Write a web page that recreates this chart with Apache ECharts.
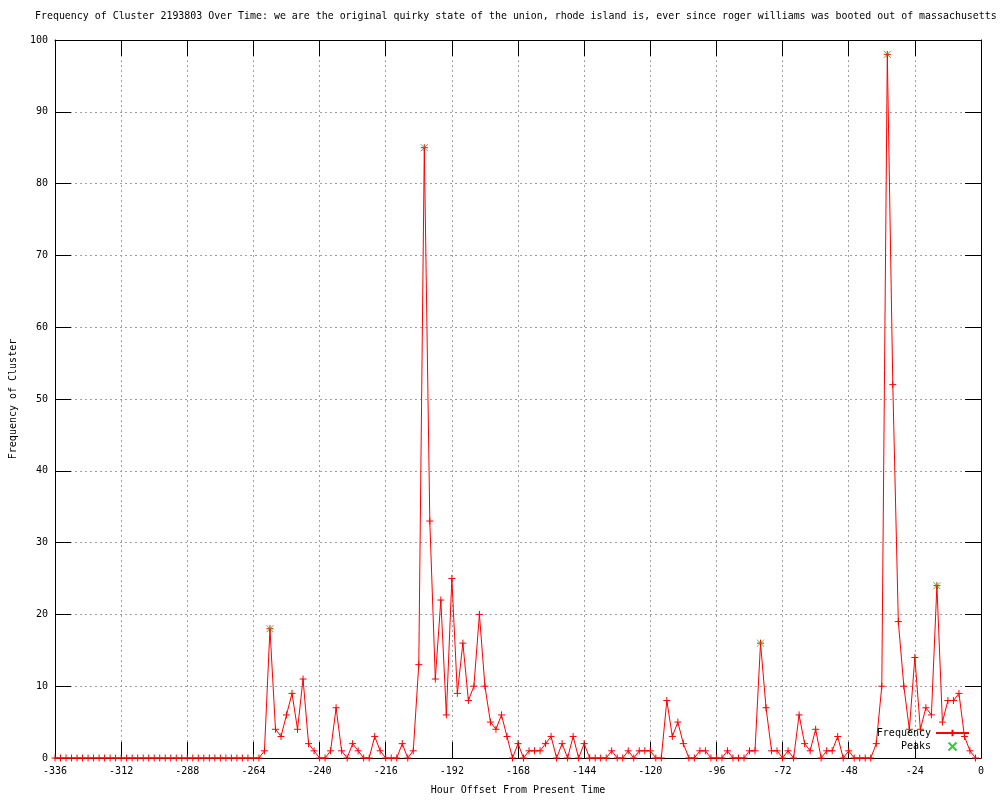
<!DOCTYPE html>
<html>
<head>
<meta charset="utf-8">
<script src="https://cdn.jsdelivr.net/npm/echarts@6/dist/echarts.min.js"></script>
<style>html,body{margin:0;padding:0;background:#fff}#c{width:1000px;height:800px}</style>
</head>
<body>
<div id="c"></div>
<script>
const titleText = 'Frequency of Cluster 2193803 Over Time: we are the original quirky state of the union, rhode island is, ever since roger williams was booted out of massachusetts';
const xAxisName = 'Hour Offset From Present Time';
const yAxisName = 'Frequency of Cluster';

const hours = [
  -336,-334,-332,-330,-328,-326,-324,-322,-320,-318,-316,-314,-312,-310,-308,-306,-304,-302,-300,-298,
  -296,-294,-292,-290,-288,-286,-284,-282,-280,-278,-276,-274,-272,-270,-268,-266,-264,-262,-260,-258,
  -256,-254,-252,-250,-248,-246,-244,-242,-240,-238,-236,-234,-232,-230,-228,-226,-224,-222,-220,-218,
  -216,-214,-212,-210,-208,-206,-204,-202,-200,-198,-196,-194,-192,-190,-188,-186,-184,-182,-180,-178,
  -176,-174,-172,-170,-168,-166,-164,-162,-160,-158,-156,-154,-152,-150,-148,-146,-144,-142,-140,-138,
  -136,-134,-132,-130,-128,-126,-124,-122,-120,-118,-116,-114,-112,-110,-108,-106,-104,-102,-100,-98,
  -96,-94,-92,-90,-88,-86,-84,-82,-80,-78,-76,-74,-72,-70,-68,-66,-64,-62,-60,-58,
  -56,-54,-52,-50,-48,-46,-44,-42,-40,-38,-36,-34,-32,-30,-28,-26,-24,-22,-20,-18,
  -16,-14,-12,-10,-8,-6,-4,-2
];
const frequency = [
  0,0,0,0,0,0,0,0,0,0,0,0,0,0,0,0,0,0,0,0,
  0,0,0,0,0,0,0,0,0,0,0,0,0,0,0,0,0,0,1,18,
  4,3,6,9,4,11,2,1,0,0,1,7,1,0,2,1,0,0,3,1,
  0,0,0,2,0,1,13,85,33,11,22,6,25,9,16,8,10,20,10,5,
  4,6,3,0,2,0,1,1,1,2,3,0,2,0,3,0,2,0,0,0,
  0,1,0,0,1,0,1,1,1,0,0,8,3,5,2,0,0,1,1,0,
  0,0,1,0,0,0,1,1,16,7,1,1,0,1,0,6,2,1,4,0,
  1,1,3,0,1,0,0,0,0,2,10,98,52,19,10,4,14,4,7,6,
  24,5,8,8,9,3,1,0
];
const peakHours = [-258, -202, -80, -34, -16];
const peakValues = [18, 85, 16, 98, 24];

const xMin = -336, xMax = 0, xStep = 24;
const yMin = 0, yMax = 100, yStep = 10;

const FONT = 'DejaVu Sans Mono';
const RED = '#ff0000';
const GREEN = '#00c000';
const plusPath = 'path://M1,0L1,2M0,1L2,1';
const crossPath = 'path://M0,0L2,2M2,0L0,2';

const freqData = hours.map((h, i) => [h, frequency[i]]);
const peakData = peakHours.map((h, i) => [h, peakValues[i]]);

const chart = echarts.init(document.getElementById('c'), null, {renderer: 'canvas'});
const tickStyle = {show: true, inside: true, length: 16, lineStyle: {color: '#000', width: 1}};
const axisLine = {show: true, onZero: false, lineStyle: {color: '#000', width: 1}};
const labelStyle = {color: '#000', fontFamily: FONT, fontSize: 10};

chart.setOption({
  animation: false,
  backgroundColor: '#fff',
  textStyle: {fontFamily: FONT},
  title: {
    text: titleText,
    left: 35, top: 11, padding: 0,
    textStyle: {fontFamily: FONT, fontSize: 9.93, fontWeight: 'normal', color: '#000'}
  },
  legend: {
    orient: 'vertical',
    right: 30, top: 727, padding: 0,
    align: 'right',
    itemWidth: 33, itemHeight: 8, itemGap: 1,
    textStyle: {fontFamily: FONT, fontSize: 10, color: '#000', lineHeight: 12},
    data: ['Frequency', 'Peaks'],
    selectedMode: false
  },
  grid: {left: 55, right: 19, top: 40, bottom: 37, containLabel: false},
  xAxis: [{
    type: 'value', min: xMin, max: xMax, interval: xStep,
    position: 'bottom',
    name: xAxisName, nameLocation: 'middle', nameGap: 27,
    nameTextStyle: labelStyle,
    axisLine: axisLine, axisTick: tickStyle,
    axisLabel: Object.assign({margin: 8}, labelStyle),
    splitLine: {show: true, lineStyle: {color: '#a0a0a0', width: 1, type: [2, 3]}}
  }, {
    type: 'value', min: xMin, max: xMax, interval: xStep,
    position: 'top',
    axisLine: axisLine, axisTick: tickStyle,
    axisLabel: {show: false}, splitLine: {show: false}
  }],
  yAxis: [{
    type: 'value', min: yMin, max: yMax, interval: yStep,
    position: 'left',
    name: yAxisName, nameLocation: 'middle', nameGap: 37, nameRotate: 90,
    nameTextStyle: labelStyle,
    axisLine: axisLine, axisTick: tickStyle,
    axisLabel: Object.assign({margin: 7}, labelStyle),
    splitLine: {show: true, lineStyle: {color: '#a0a0a0', width: 1, type: [2, 3]}}
  }, {
    type: 'value', min: yMin, max: yMax, interval: yStep,
    position: 'right',
    axisLine: axisLine, axisTick: tickStyle,
    axisLabel: {show: false}, splitLine: {show: false}
  }],
  series: [{
    name: 'Frequency',
    type: 'line',
    data: freqData,
    xAxisIndex: 0, yAxisIndex: 0,
    symbol: plusPath, symbolSize: 7, showAllSymbol: true,
    clip: false,
    color: RED,
    lineStyle: {color: RED, width: 1},
    itemStyle: {color: 'none', borderColor: RED, borderWidth: 1},
    emphasis: {disabled: true},
    z: 3
  }, {
    name: 'Peaks',
    type: 'scatter',
    data: peakData,
    xAxisIndex: 0, yAxisIndex: 0,
    symbol: crossPath, symbolSize: 7,
    clip: false,
    color: GREEN,
    itemStyle: {color: 'none', borderColor: GREEN, borderWidth: 1},
    emphasis: {disabled: true},
    z: 4
  }]
});
</script>
</body>
</html>
